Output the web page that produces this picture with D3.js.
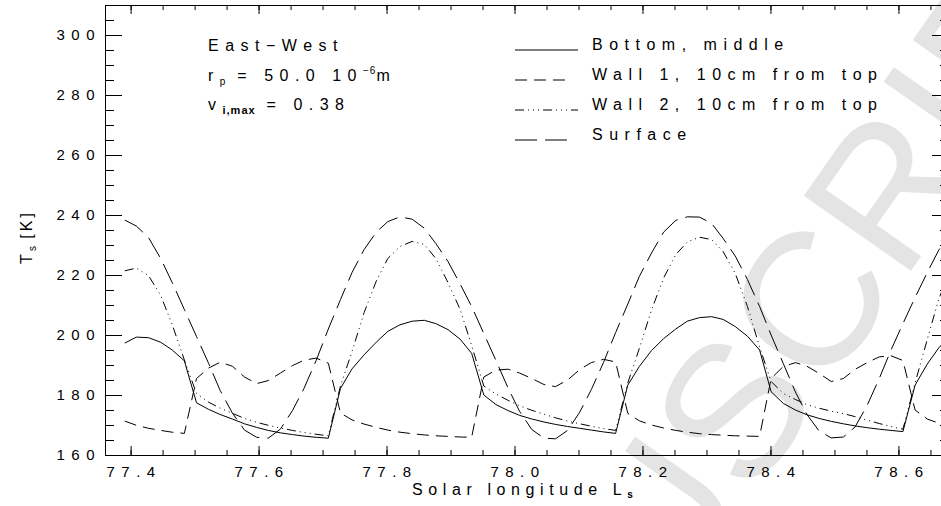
<!DOCTYPE html>
<html>
<head>
<meta charset="utf-8">
<script src="https://cdn.jsdelivr.net/npm/d3@7"></script>
<style>
  body { margin: 0; background: #fff; }
  text { font-family: "Liberation Sans", Arial, sans-serif; fill: #000; }
</style>
</head>
<body>
<svg id="chart" width="941" height="506"></svg>
<script>
// solar longitude of each (hourly) sample
const ls = [
  77.391, 77.409, 77.428, 77.447, 77.465, 77.484, 77.503, 77.522, 77.540, 77.559,
  77.578, 77.597, 77.615, 77.634, 77.653, 77.671, 77.690, 77.709, 77.728, 77.746,
  77.765, 77.784, 77.802, 77.821, 77.840, 77.859, 77.877, 77.896, 77.915, 77.933,
  77.952, 77.971, 77.990, 78.008, 78.027, 78.046, 78.064, 78.083, 78.102, 78.120,
  78.139, 78.158, 78.177, 78.195, 78.214, 78.233, 78.252, 78.270, 78.289, 78.308,
  78.326, 78.345, 78.364, 78.383, 78.401, 78.420, 78.439, 78.457, 78.476, 78.495,
  78.514, 78.532, 78.551, 78.570, 78.588, 78.607, 78.626, 78.645, 78.663, 78.682
]

// T_s [K]
const bottomMiddle = [
  197.3, 199.3, 199.1, 197.6, 195.0, 191.4, 177.4, 175.2, 173.5, 172.0,
  170.4, 169.2, 168.2, 167.4, 166.8, 166.3, 165.9, 165.6, 182.2, 188.7,
  193.4, 197.6, 201.2, 203.4, 204.6, 204.9, 203.8, 201.8, 198.6, 193.9,
  180.0, 176.8, 174.8, 173.2, 172.0, 171.0, 170.2, 169.5, 168.9, 168.3,
  167.7, 167.2, 183.3, 189.5, 194.8, 198.8, 202.0, 204.6, 205.8, 206.1,
  205.2, 202.8, 199.6, 195.0, 181.1, 177.2, 175.0, 173.4, 172.2, 171.2,
  170.4, 169.7, 169.1, 168.6, 168.2, 167.8, 183.3, 190.3, 195.7, 200.0
]
const wall1 = [
  171.3, 169.9, 168.9, 168.2, 167.6, 167.2, 185.5, 189.0, 190.9, 189.6,
  186.0, 183.8, 184.8, 187.3, 189.8, 191.6, 192.3, 190.6, 174.0, 171.7,
  170.3, 169.2, 168.3, 167.6, 167.1, 166.7, 166.4, 166.2, 166.0, 165.9,
  186.0, 188.3, 188.6, 187.3, 185.5, 183.5, 182.8, 185.0, 188.5, 190.8,
  191.9, 191.0, 173.9, 171.4, 170.0, 169.0, 168.2, 167.6, 167.1, 166.8,
  166.6, 166.4, 166.3, 166.2, 185.5, 189.5, 190.8, 189.6, 187.2, 184.5,
  185.5, 188.5, 190.8, 192.7, 193.1, 191.5, 175.0, 172.0, 170.6, 169.5
]
const wall2 = [
  221.4, 222.3, 219.8, 213.2, 203.5, 191.7, 180.5, 177.6, 175.6, 173.9,
  172.2, 170.9, 169.9, 169.0, 168.2, 167.5, 166.9, 166.4, 183.0, 194.5,
  207.5, 218.0, 225.5, 229.5, 231.2, 230.2, 225.5, 217.5, 208.5, 196.5,
  183.0, 180.3, 178.2, 176.4, 174.9, 173.6, 172.4, 171.3, 170.4, 169.6,
  168.8, 168.2, 184.0, 195.5, 208.3, 219.0, 226.8, 231.0, 232.6, 231.8,
  227.8, 220.5, 209.5, 196.0, 184.5, 180.5, 178.5, 176.8, 175.6, 174.6,
  173.8, 172.8, 171.6, 170.5, 169.5, 168.6, 184.0, 198.5, 212.0, 222.0
]
const surface = [
  238.3, 236.3, 232.5, 225.5, 217.5, 208.5, 199.5, 190.5, 181.5, 174.0,
  168.3, 165.9, 165.6, 168.6, 174.8, 182.2, 191.5, 202.0, 211.8, 220.8,
  228.5, 234.3, 237.8, 239.4, 238.6, 235.6, 230.5, 224.5, 217.0, 209.5,
  200.5, 191.5, 182.3, 174.5, 168.5, 165.6, 165.4, 168.2, 174.3, 181.8,
  190.8, 200.8, 210.3, 219.5, 227.3, 234.3, 238.2, 239.4, 239.3, 237.2,
  232.2, 226.3, 218.5, 209.5, 200.0, 190.5, 181.0, 173.5, 168.0, 165.7,
  166.0, 169.3, 176.5, 185.5, 194.8, 203.8, 212.5, 220.8, 228.3, 234.5
]

const seriesNames = ['Bottom, middle', 'Wall 1, 10cm from top', 'Wall 2, 10cm from top', 'Surface']
const xTicks = [77.4, 77.6, 77.8, 78.0, 78.2, 78.4, 78.6]
const yTicks = [160, 180, 200, 220, 240, 260, 280, 300]

const dashes = ['none', '12,7', '9,4,1,4,1,4,1,4', '22,8']
const legendEnd = [578, 570, 578, 567]

const svg = d3.select('#chart')
const margin = {top: 5, left: 105}
const plotRight = 949, plotBottom = 455

const x = d3.scaleLinear().domain([77.36, 78.679]).range([margin.left, plotRight])
const y = d3.scaleLinear().domain([160, 310]).range([plotBottom, margin.top])

// watermark behind the chart
svg.append('text')
  .attr('transform', 'translate(672,612) rotate(-55)')
  .attr('font-size', 190)
  .style('fill', '#e4e4e4')
  .style('font-family', '"Liberation Sans", Arial, sans-serif')
  .text('USCRIPT')

svg.append('defs').append('clipPath').attr('id', 'clip')
  .append('rect')
  .attr('x', margin.left).attr('y', margin.top)
  .attr('width', plotRight - margin.left).attr('height', plotBottom - margin.top)

const minorX = d3.range(77.35, 78.7, 0.05).filter(v => v > 77.36)
const minorY = d3.range(165, 310, 5)

const tickFont = g => g.selectAll('text')
  .attr('font-size', 15)
  .style('letter-spacing', '6.5px')
  .style('font-family', '"Liberation Sans", Arial, sans-serif')

// bottom
svg.append('g').attr('transform', `translate(0,${plotBottom})`)
  .call(d3.axisBottom(x).tickValues(minorX).tickSize(-5).tickFormat(''))
svg.append('g').attr('transform', `translate(0,${plotBottom})`)
  .call(d3.axisBottom(x).tickValues(xTicks).tickSize(-9).tickSizeOuter(0).tickPadding(11).tickFormat(d3.format('.1f')))
  .call(tickFont)
  .call(g => g.selectAll('text').attr('dx', 3))
// top
svg.append('g').attr('transform', `translate(0,${margin.top})`)
  .call(d3.axisTop(x).tickValues(minorX).tickSize(-5).tickFormat(''))
svg.append('g').attr('transform', `translate(0,${margin.top})`)
  .call(d3.axisTop(x).tickValues(xTicks).tickSize(-9).tickSizeOuter(0).tickFormat(''))
// left
svg.append('g').attr('transform', `translate(${margin.left},0)`)
  .call(d3.axisLeft(y).tickValues(minorY).tickSize(-9).tickFormat(''))
svg.append('g').attr('transform', `translate(${margin.left},0)`)
  .call(d3.axisLeft(y).tickValues(yTicks).tickSize(-17).tickSizeOuter(0).tickPadding(4))
  .call(tickFont)
// right
svg.append('g').attr('transform', `translate(${plotRight},0)`)
  .call(d3.axisRight(y).tickValues(minorY).tickSize(-9).tickFormat(''))
svg.append('g').attr('transform', `translate(${plotRight},0)`)
  .call(d3.axisRight(y).tickValues(yTicks).tickSize(-17).tickSizeOuter(0).tickFormat(''))

svg.selectAll('.domain').attr('stroke', '#000')
svg.selectAll('.tick line').attr('stroke', '#000')

// curves
const allSeries = [bottomMiddle, wall1, wall2, surface]
const line = d3.line().x((d, i) => x(ls[i])).y(d => y(d))
svg.append('g').attr('clip-path', 'url(#clip)')
  .selectAll('path')
  .data(allSeries)
  .enter()
  .append('path')
  .attr('d', line)
  .attr('fill', 'none')
  .attr('stroke', '#000')
  .attr('stroke-width', 1)
  .attr('stroke-dasharray', (d, i) => dashes[i])

// axis titles
svg.append('text')
  .attr('transform', 'translate(32,237) rotate(-90)')
  .attr('text-anchor', 'middle')
  .attr('font-size', 16)
  .style('letter-spacing', '3px')
  .html('T<tspan font-size="10" dy="4" style="letter-spacing:0">s</tspan><tspan dy="-4"> [K]</tspan>')

svg.append('text')
  .attr('x', 412).attr('y', 495)
  .attr('font-size', 16)
  .style('letter-spacing', '5.6px')
  .html('Solar longitude L<tspan font-size="10" font-weight="bold" dy="3">s</tspan>')

// run info, upper left
const info = svg.append('g').attr('font-size', 16).style('letter-spacing', '6.5px')
info.append('text').attr('x', 208).attr('y', 51).text('East\u2212West')
info.append('text').attr('x', 208).attr('y', 81)
  .html('r<tspan font-size="10" dy="4" style="letter-spacing:1px">p</tspan><tspan dy="-4"> = 50.0 10</tspan><tspan font-size="10" dy="-7" style="letter-spacing:1px">\u22126</tspan><tspan dy="7">m</tspan>')
info.append('text').attr('x', 208).attr('y', 110)
  .html('v<tspan font-size="11" font-weight="bold" dy="4" style="letter-spacing:1px">i,max</tspan><tspan dy="-4"> = 0.38</tspan>')

// legend
const legend = svg.append('g')
seriesNames.forEach((name, i) => {
  const yy = 50 + i * 30
  legend.append('line')
    .attr('x1', 515).attr('x2', legendEnd[i]).attr('y1', yy).attr('y2', yy)
    .attr('stroke', '#000').attr('stroke-width', 1)
    .attr('stroke-dasharray', dashes[i])
  legend.append('text')
    .attr('x', 592).attr('y', yy)
    .attr('font-size', 16)
    .style('letter-spacing', '6.5px')
    .text(name)
})
</script>
</body>
</html>
